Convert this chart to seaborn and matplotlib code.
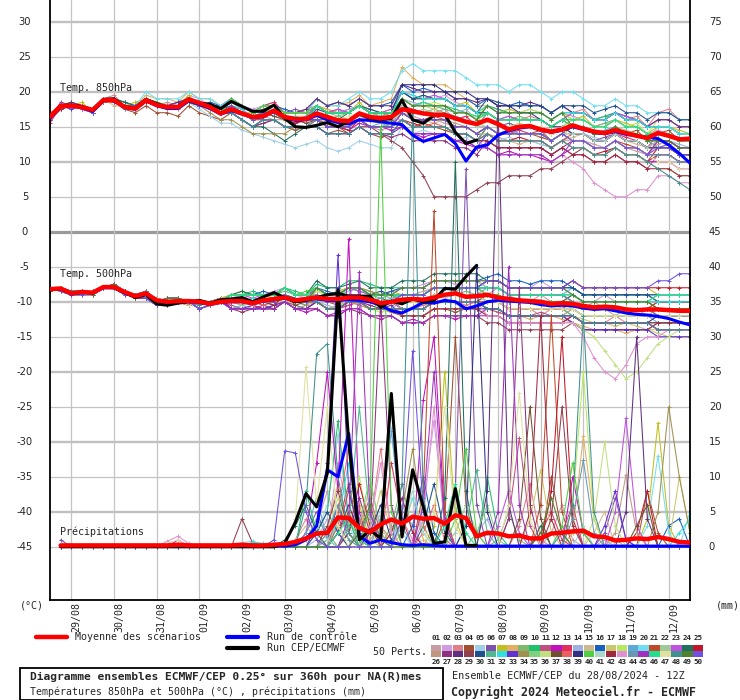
import numpy as np
import pandas as pd
import matplotlib
matplotlib.use('Agg')
import matplotlib.pyplot as plt
from matplotlib.lines import Line2D
from matplotlib.patches import Rectangle
import seaborn as sns

sns.set_style('white')
plt.rcParams['font.family'] = ['DejaVu Sans Mono', 'DejaVu Sans']

# run of 28/08 12Z, one step every 6h up to 360h
hours = list(range(0, 361, 6))
date_labels = ['29/08', '30/08', '31/08', '01/09', '02/09', '03/09', '04/09',
               '05/09', '06/09', '07/09', '08/09', '09/09', '10/09', '11/09', '12/09']
date_hours = [12, 36, 60, 84, 108, 132, 156, 180, 204, 228, 252, 276, 300, 324, 348]

# ensemble mean / control / deterministic (CEP) run
mean850 = [16.4, 18.0, 18.0, 17.8, 17.4, 18.8, 18.8, 17.8, 17.6, 18.8, 18.1, 17.8, 17.8, 18.9, 18.4, 17.8,
           16.9, 17.5, 16.9, 16.4, 16.5, 17.3, 16.4, 16.1, 16.1, 16.9, 16.4, 15.9, 15.8, 16.9, 16.4, 16.2,
           16.4, 17.5, 17.2, 16.9, 16.7, 16.7, 16.2, 15.7, 15.4, 16.0, 15.4, 14.6, 15.0, 15.1, 14.6, 14.3,
           14.6, 15.2, 14.7, 14.3, 14.1, 14.5, 14.1, 13.7, 13.4, 14.1, 13.7, 13.2, 13.3]
ctrl850 = [16.2, 17.9, 18.0, 17.7, 17.2, 18.7, 18.8, 17.7, 17.5, 18.7, 18.0, 17.6, 17.6, 18.7, 18.2, 17.6,
           16.8, 17.3, 16.8, 16.3, 16.4, 17.2, 16.3, 15.9, 16.0, 16.6, 16.0, 15.6, 15.4, 16.0, 15.9, 15.7,
           15.5, 15.3, 13.8, 12.9, 13.4, 13.9, 12.6, 10.1, 12.1, 12.4, 13.8, 14.4, 14.8, 15.0, 14.5, 14.2,
           14.5, 15.0, 14.6, 14.2, 14.0, 14.3, 13.9, 13.7, 13.5, 13.3, 12.4, 11.2, 9.8]
cep850 = [16.4, 18.0, 18.1, 17.9, 17.4, 18.9, 19.0, 17.8, 17.7, 18.9, 18.3, 17.8, 17.9, 19.0, 18.4, 18.2,
          17.6, 18.6, 17.9, 17.2, 17.2, 18.1, 16.2, 15.0, 14.9, 15.2, 15.6, 15.0, 15.8, 16.8, 16.2, 16.0,
          16.2, 18.8, 16.0, 15.5, 16.6, 16.8, 14.2, 12.6, 13.1]

mean500 = [-8.2, -8.1, -8.8, -8.6, -8.7, -7.9, -7.9, -8.6, -9.2, -8.8, -9.8, -10.0, -9.9, -9.9, -10.0, -10.3,
           -10.0, -9.9, -9.9, -10.2, -9.8, -9.6, -9.4, -9.8, -9.6, -9.4, -9.6, -9.6, -9.4, -9.4, -9.7, -10.2,
           -10.0, -9.7, -9.6, -9.7, -9.4, -9.0, -8.8, -9.3, -9.2, -9.0, -9.4, -9.6, -9.8, -9.9, -10.0, -10.3,
           -10.2, -10.3, -10.6, -10.8, -10.7, -10.8, -11.1, -11.2, -11.1, -11.1, -11.2, -11.3, -11.3]
ctrl500 = [-8.2, -8.2, -8.9, -8.7, -8.8, -8.0, -8.0, -8.7, -9.3, -8.9, -9.9, -10.1, -10.0, -10.0, -10.1, -10.4,
           -10.1, -10.0, -10.0, -10.3, -9.9, -9.7, -9.5, -9.9, -9.7, -9.6, -9.8, -9.8, -9.7, -9.8, -10.0, -10.5,
           -11.3, -11.6, -10.9, -10.1, -10.2, -9.8, -10.0, -11.0, -10.6, -10.0, -9.8, -9.9, -10.0, -10.1, -10.4,
           -10.6, -10.5, -10.6, -10.9, -11.1, -11.0, -11.3, -11.6, -11.8, -11.9, -12.1, -12.4, -12.9, -13.3]
cep500 = [-8.2, -8.1, -8.8, -8.6, -8.7, -7.9, -8.0, -8.7, -9.4, -9.0, -10.3, -10.5, -10.2, -10.0, -9.8, -10.2,
          -9.7, -9.6, -9.4, -10.0, -9.3, -8.7, -9.4, -10.0, -9.8, -9.4, -9.0, -8.8, -9.2, -9.2, -9.2, -10.8,
          -9.9, -10.3, -9.6, -10.0, -9.8, -8.1, -8.2, -6.4, -4.8]

# precipitation (mm per 6h), first value at +6h
mean_rr = [0.2, 0.2, 0.2, 0.2, 0.2, 0.2, 0.2, 0.2, 0.2, 0.2, 0.2, 0.3, 0.2, 0.2, 0.2, 0.2, 0.2, 0.3, 0.2, 0.2,
           0.3, 0.4, 0.7, 1.2, 1.9, 2.0, 4.2, 4.1, 2.7, 2.1, 3.2, 3.9, 3.3, 4.3, 4.0, 4.1, 3.3, 4.5, 4.1, 1.5,
           2.0, 1.9, 1.5, 1.6, 1.2, 1.2, 1.9, 2.0, 2.2, 2.3, 1.5, 1.4, 0.9, 1.0, 1.2, 1.1, 1.4, 1.1, 0.7, 0.6]
ctrl_rr = [0.1, 0.1, 0.1, 0.1, 0.1, 0.1, 0.1, 0.1, 0.1, 0.1, 0.1, 0.1, 0.1, 0.1, 0.1, 0.1, 0.1, 0.1, 0.1, 0.1,
           0.1, 0.1, 0.3, 1.0, 3.0, 11.0, 10.0, 16.2, 1.5, 0.5, 1.0, 0.6, 0.3, 0.2, 0.3, 0.2, 0.1, 0.1, 0.1, 0.1,
           0.1, 0.1, 0.1, 0.1, 0.1, 0.1, 0.1, 0.1, 0.1, 0.1, 0.1, 0.1, 0.1, 0.1, 0.1, 0.1, 0.1, 0.1, 0.1, 0.1]
cep_rr = [0.0, 0.0, 0.0, 0.0, 0.0, 0.0, 0.0, 0.0, 0.0, 0.0, 0.0, 0.0, 0.0, 0.0, 0.0, 0.0, 0.0, 0.0, 0.0, 0.0,
          0.0, 0.5, 3.5, 7.6, 5.7, 10.5, 36.7, 15.0, 1.0, 2.4, 1.2, 21.9, 1.4, 11.0, 5.7, 0.5, 0.7, 8.3, 0.2, 0.2]

member_colors = ['#c89ba5', '#d09ce0', '#e07f8a', '#a05030', '#a0d0e8', '#8050b0', '#c0c020', '#e0b060',
                 '#80b870', '#20c070', '#c05080', '#c010c0', '#e03060', '#a0b0e0', '#d0b890', '#1860c0',
                 '#c8c870', '#b8e860', '#60a8d8', '#70e0f0', '#c04828', '#a0c898', '#c050e0', '#207060',
                 '#c01828', '#c09880', '#903080', '#603080', '#904050', '#205090', '#50b890', '#30e0e0',
                 '#6030d0', '#a09050', '#80d080', '#c0e080', '#705030', '#e86060', '#303080', '#50d040',
                 '#a8d8c8', '#a02840', '#e090d0', '#6898b0', '#a030c0', '#20e090', '#e0e0a0', '#409090',
                 '#508030', '#7050e0']

# 50 perturbed members, T850 (°C), every 6h
t850_members = [
    "16 18 17.5 18 17 18.5 19 18 17.5  18.5 18 17.5 18 19 18 17.5 17  18 17 16 16.5 16 16 15 15  16 15 15.5 15 16 15 14.5 15  17 16.5 16 16 15.5 15 15 14  14 13.5 13 13 13 12.5 12 13  13 13 12.5 12 13 12 11.5 11  12.5 13 12 12",
    "16.5 18 18 18 17.5 19 19 18 18  19 18.5 18 18 19.5 19 18 18  19 18 17.5 18 18.5 17 17 17.5  18 17.5 17 17 18 17.5 17 17  20 19.5 19 19 19.5 18.5 18 17  18 17.5 17 17 17.5 17 16 17  16.5 16 15 15.5 16 15 15 14  14.5 14 13.5 13",
    "17 18 18.5 18 17 19 19.5 18 18  19 18 18.5 18 19 18 18.5 17  18 17.5 16 17 17.5 16 16.5 16  17 16 16.5 16 17 16.5 16 16  18 17.5 17 17 17.5 16 16.5 15  17 16 16.5 16 16.5 16 15 16  17 17.5 16 16.5 17 16 16.5 15  17 17.5 16 16",
    "16 17.5 18 17.5 17 18.5 18.5 17.5 17  18 17 17 16.5 18 17 16.5 16  17 16 15 15.5 16 15 14.5 15  15 14 14.5 14 15 14 13.5 14  16 15 15.5 15 14.5 14 14 13  15 14 14.5 14 14 13.5 13 14  15 15 14.5 14 15 14 14.5 13  14 14.5 13 13",
    "16 18 18 18 17 19 19 18 18  19 18 18 17.5 18.5 17.5 16.5 15.5  15.5 14.5 14 13.5 13 12.5 12 12.5  13 12 11.5 12 13 12.5 12 12  15 14 14.5 14 14 13 13.5 12  14 13 13.5 13 13 12.5 12 13  14 14 13.5 13 14 13 13 12  12 12.5 11 11",
    "16 18.5 18 18 17.5 19 19 18.5 18  19 18.5 18 18.5 19 18.5 18 18  19 18 17 17.5 18 17 17.5 17  18 17 17 17.5 18 17 17 16.5  19 18 18.5 18 18 17 17 16  16 15 15.5 15 15 15 14 15  14 14 13 13.5 14 13 13 12  12 12.5 11 11",
    "16 18 18 18.5 17 19 19 18 18.5  19 18 18 18 19.5 18 18 17.5  18 17 17 17.5 18 17 17 17  18 17.5 17 17 18.5 17 17 17.5  20 19 19.5 19 19 18 18.5 17  18 17 17.5 17 17 17 16 17  16 16.5 15 15 16 15.5 15 14  15 15 14.5 14",
    "16 18 18 18 17 19 19 18 18  19.5 19 19 18.5 20 19 19 18  19 18 17 18 18 17 17 17.5  19 18 18 18.5 19.5 18 18.5 19  23.5 22 21 21 21 20 19 18  18 17 17 17 17 17 16 17  16 16 15 15 16 15 15 14  14 14 13 13",
    "16 18 18 17.5 17 19 19 18 18  19 18 18 18 18.5 18 18 17  18 17 16 17 17 16 16 16  16 15 15 15.5 16 15 15 15.5  18 17 17 17.5 17 16 16 15  17 16 16 16.5 16 16 15 16  16 16 15 15.5 16 15 15 14  14 14 13 13",
    "16.5 18 18.5 18 17 19 19 18.5 18  19 18 18 18 19 18 18 17.5  19 18 17 18 18 17 17 17  17 16.5 16 16 17 16 16.5 16  19 18 18 18 18 17.5 17 16  18 17.5 17 17 17 17 16 17  17 17 16 16.5 17 16 16 15  15 15 14 14",
    "16 17.5 18 18 17 18.5 19 18 18  18.5 18 18 17.5 18.5 18 17.5 17  17 16 15 16 16 15 15 15  16 15 15 15 16 15 15 15  16 15 15 15 15 14 14 13  13 12 12 12 12 12 11 12  11 11 10 10 11 10 10 9  11 11 10 10",
    "16 18 18 18 17 19 19 18 18  19 18 18 18 19 18 18 17  18 17 16 16.5 17 16 15.5 16  16 15 15 14.5 15.5 15 15 14.5  15 14 13.5 14 14 13 12.5 12  12 11 11.5 11 11 10.5 10 11  12 12 11 11 12 11 11 10  10 10 9 9",
    "15.5 18 18 18 17 19 18.5 18 18  19 18 18 18 19 18 18 17  19 18 17 18 18.5 17 17 17  18 17 17.5 17 18 17 16.5 17  18 17.5 17 17 17 16 16.5 15  15 14 14 14.5 14 14 13 14  14 14 13 13 14 13.5 13 12  14 14 13 13",
    "16 18 18 18 17 19 19 18 18  19 18 18 18 19 18 18 17.5  18.5 17.5 16.5 17 17 16.5 16 16.5  18 17 17 17.5 18 17 17 17  19 18.5 18 18 18 17 17.5 16  16 15.5 15 15 15 15 14 15  15 15 14 14.5 15 14 14 13  13 13 12.5 12",
    "16 18 18 18 17 19 18 18 18  19 18 18 18 19 18 17.5 17  18 17 16 16.5 17 16 16 15.5  17 16 16 16 16.5 16 16 16  17 16 16 15.5 16 15 15 14  14 13 13 12.5 13 13 12 13  13.5 14 13 13 14 13 12.5 12  12 12 11 11",
    "16 18 18 18 17.5 19 19 18 18  19 18.5 18 18 19 18 18.5 18  19 18 17 18 18 17.5 17 17  19 18 18.5 18 19 18 18 18.5  21 20 20.5 20 20 19 19 18  19 18 18 18.5 18 18 17 18  17 17 16 16 17 16.5 16 15  15 15 14 14",
    "16 18 18.5 18 17 19 19 18 18  19 18 18 18 19 18 18 17  18 17 16.5 17 17 16 16 16.5  17 16.5 16 16 17 16 16 16.5  19 18 18 17.5 18 17 17 16  16 15 15 15.5 15 15 14 15  14 14 13 13 14 13 13 12  13 13 12 12",
    "16 18 18 18 17 19 19 18 18  19 18 18 18 19 18 18 17  18 17 16 17 17 16 16.5 16.5  18 17 17 17 18 17.5 17 17  19 18 18 18.5 18 17 17 16.5  18 17 17 17 17.5 17 16 17  16 16 15 15 16 15 15.5 14  16 16 15 15",
    "16 18 18 18 17 19 19 18 18  19 18 18 18 19 18 18 17  17 16 15 16 16 15 15 15  16 15 15 15 16 15 15.5 15  18 17 17 17 17 16.5 16 15  17 16 16 16 16 16 15 16  15 15 14 14.5 15 14 14 13  14 14 13 13",
    "16 18 18 18 17 19 19 18 18  20 19 19 19 20 19 19 18  19 18 17 18 18 17 17 17  19 18 18 19 20 19 19 20  23 24 23 23 23 23 22 21  21 21 20 21 21 20 19 20  20 19 18 18 19 18 18 17  17 17 16 16",
    "16 18 18 18 17 19 19 18 18  19 18 18 18 19 18 18 17  18 17 16 17 17 16 16 16  16 15.5 15 15 16 15 15 15  17 16 16 16.5 16 15 15 14  15 14 14 14 14 14.5 13 14  13 13 12 12 13 12.5 12 11  13 13 12 12",
    "16 18 18 18 17.5 19 19 18 18  19 18.5 18 18 19 18 18 17  18 17 16.5 17 17.5 16 16 16  17 16 16.5 16 17 16 15.5 16  18 17 17.5 17 17 16 16 15.5  15 14 14.5 14 14 14 13 14  15 15 14 14 15 14.5 14 13  15 15 14 14",
    "16 18 18 17.5 17 19 19 18 17.5  19 18 18 18.5 19 18 18 17  18 17.5 16 17 17 16.5 16 16.5  18 17 17.5 17 18 17 17 17.5  20 19 19 19.5 19 18 18 17  17 16 16.5 16 16 16 15 16  17 17 16 16 17 16.5 16 15  16 16 15 15",
    "16 18 18 18 17 19 19 18.5 18  19 18 18 18 19 18 18 17  17 16 15 15 14 13 14 15  16 16 16 17 18 17 17 17  20 19 19 19 19 18 18 17  17 16 16 16 16 16 15 16  15 15 14 14 15 14 14 13  13 13 12 12",
    "16 17.5 18 18 17 18.5 19 18 18  18.5 18 18 18 18.5 18 18 17  17.5 17 16 16.5 17 16 15.5 16  16 15 15 14.5 16 15 15 15  16 15.5 15 15 15 14 14 13  14 13 13 13.5 13 13 12 13  12 12 11 11.5 12 11 11 10  12 12 11 11",
    "16 18 18 18 17 19 19 18 18  19 18 18 17.5 19 18 18 17  18 17 16 17 16.5 16 16 16  17 16 16 15.5 17 16 16 16  17 16 16 16 16 15.5 15 14  15 14 14 14 14 14 13 14  13 13 12 12 13 12 12 11  13 13 12 12",
    "16 18 18 18 17 19 19 18 18  19 18 18 18 19 18 18 17  17 16 15 15.5 16 15 15 15  15 14 14 14 15 14 14 13.5  14 13 13 13 13 12 12 11  13 12 12 12 12 12 11 12  13 13 12 12 13 12 12 11  11 11 10 10",
    "16 18 18.5 18 17 19 19 18 18  19 18 18 18.5 19 18 18 17.5  19 18 17 17.5 18 17 17 17.5  19 18 18.5 18 19 18 18 18  21 20.5 20 20 20 19 19 18.5  19 18 18 18 18.5 18 17 18  17 17 16 16 17 16 16 15  16 16 15 15",
    "16 18 18 18 17 19 19 18 18  19 18 18 18 19 18 18 17  18 17 16 16 16 15 15 15  16 15 15 14 15 15 14 13  12 10 8 5 5 5 5 6  7 7 8 8 8 9 9 10  11 12 11 11 12 11 11 10  11 11 10 10",
    "16 18 18 18 17 19 19 18 18  19 18 18 18 19 18.5 18 17.5  18 17 16.5 17 17 16.5 16 16  17.5 17 17 17 18 17.5 17 17  20 19 19.5 19 19 18 18 17  19 18.5 18 18 18 18 17 18  18 18 17 17.5 18 17 17 16  17 17 16 16",
    "16 18 18 18 17 18.5 19 18 18  19 18 18 18 19 18 18 17  18 17 16 17 17.5 16 16 16  17 16.5 16 16 17 16 16 16  19 18 18 18 17.5 17 17 16  17 16 16 16 16 16 15 16  15 15 14 14 15 14 14 13  12 12 11 11",
    "16 18 18 18 17 19 19 18 18  19 18 18 18 19 18 18 17  18 17.5 16 17 17 16 16.5 16  18 17 17 17 18 17 17 17  20 19.5 19 19 19 18 18 17  18 17 17 17 17 17 16 17  17 17 16 16 17 16 16 15  15 15 14 14",
    "16 18 17.5 18 17 19 18.5 18 18  19 18 18 18 19 18 18 17  17 16 15 16 16 15 15 15  15 14 14 14 15 14 14 14  15 14 14 14 14 13 13 12  14 13 13 13 13 13 12 13  14 14 13 13 14 13 13 12  13 13 12 12",
    "16 18 18 18 17 19 19 18 18  19 18 18 18 19 18 17 16  16 15 14 14 14 14 15 15  16 15 15 15 16 15 15 15  16 15 15 15 15 14 14 13  15 14 14 14 14 14 13 14  14 14 13 13 14 13 13 12  12 12 11 11",
    "16 18 18 18 17 19 19 18 18  19 18 18 18 19 18 18 17  19 18 17 18 18 17 17 17  18 17 16.5 17 18 17 16.5 17  18 17 17 17 17 16 16 15  16 15 15 15 15 15 14 15  16 16 15 15 16 15 15 14  14 14 13 13",
    "16 18 18 18 17 19 19 18 18  19 18 18 18 19 18 18 17  18 17 16 17 17 16 16 16  17 16 16 16 17 16 16 16  17 16 16 16 16 15 15 14  14 13 13 13 13 13 12 13  12 12 11 11 12 11 11 10  9 9 8 8",
    "16 18 18 18 17 19 19 18 18  19 18 18 18 19 18 18 17  18 17 16 17 16.5 16 16 15.5  16 15 15 15 16 15 15 15  17 16 16 16 16 15 15 14  15 14 14 14 14 14 13 14  15 15 14 14 15 14 14 13  14 14 13 13",
    "16 18 18 18 17 19 19 18 18  19 18 18 18 19 18 18 17  18 17 16 17 17 16 16 16  16 15 15 15 16 15 15 15  16 15 15 15.5 15 14 14 13  14 13 13 13 13 13 12 13  14 14 13 13 14 13 13 12  13 13 12 12",
    "16 18 18 18 17 19 19 18 18  19 18 18 18 19 18 18 17  18 17 16 17 17 16 16 16  18 17 17 17 18 17 17 17  21 21 21 21 20 20 20 19  19 18 18 17 17 16 15 15  14 14 13 13 14 13 13 12  12 12 11 11",
    "16 18 18 18 17 19 19 18 18  19 18.5 18 18 19 18.5 18 17  19 18 17 18 18 17 17 17  18 17 17 17 18 17 17 17  19 18 18 18 18 17 17 16  17 16 16 16 16 16 15 16  15 15 14 14 15 14 14 13  14 14 13 13",
    "16 18 18 18 17 19 19 18 18  19 18 18 18 19 18 18 17  18 17 16 17 17 16 16 16  17 16 16 16 16.5 16 16 15.5  18 17 17 17 17 16 16 15  15 14 14 14 14 14 13 14  14 14 13 13 14 13 13 12  13 13 12 12",
    "16 18 18 18 17 19 19 18 18  19 18 18 18 19 18 18 17  18 17 16 17 17 16 15.5 16  16 15 15 15 16 15 15 15  16 15 15 15 15 14 14 13  13 12 12 12 12 12 11 12  11 11 10 10 11 10 10 9  9 9 8 8",
    "16 18 18 18 17 19 19 18 18  19 18 18 18 19 18 18 17  18 17 16 17 17 16 16 16  17 16 16 16 17 16 16 16  16 15 15 15 15 14 14 13  12 11 11 11 11 11 10 11  10 9 7 6 5 5 6 6  8 8 7 7",
    "16 18 18 18 17 19 19 17.5 17.5  19 18 18 18 19 18 18 17  17 16 15 16 16 15 15 15  16 15 15 15 16 15 15 15  16 15 15 15 15 14 14 13  15 14 14 14 14 14 13 14  13 13 12 12 13 12 12 11  11 11 10 10",
    "16 18 18 18 17 19 19 18 18  19 18 18 18 19 18 18 17  18 17 16 17 17 16 16 16  17 16 16 16 17 16 16 16  15 14 14 14 14 13 13 12  12 11 11 11 11 11 10 11  13 13 12 12 13 12 12 11  13 13 12 12",
    "16 18 18 18 17 19 19 18 18  19 18 18 18 19 18 18 17  18 17 16 17 17 16 16 16  18 17 17 17 18 17 17 17  19 18 18.5 18 18 17 17 16.5  17 16 16 16 16 16 15 16  16 16 15 15 16 15 15 14  14 14 13 13",
    "16 18 18 18 17 19 19 18 18  19 18 18 18 19 18 18 17  18 17 16 17 17 16 16 16  17 16 16 16.5 17 16 16 16  19 18 18 18 18 17 17 16  16 15 15 15 15 15 14 15  13 13 12 12 13 12 12 11  10 10 9 9",
    "16 18 18 18 17 19 19 18 18  19 18 18 18 19 18 18 17  17 16 15 16 16 15 15 15  15 14 14 14 15 14 14 14  16 15 15 15 15 14 14 13  14 13 13 13 13 13 12 13  12 12 11 11 12 11 11 10  9 8 7 6",
    "16 18 18 18 17 19 19 18 18  19 18 18 18 18.5 18 18 17  18 17 16 17 17 16 16 16  17 16 16 16 17 16 16 16  19 18 18 18 18 17 17 16  18 17 17 17 17 17 16 17  15 15 14 14 15 14 14 13  13 13 12 12",
    "16 18 18 18 17 19 19 18 18  19 18 18 18 19 18 18 17  18 17 16 17 17 16.5 16 16  16 15 15 15 16 15 15 15  17 16 16 16 16 15 15 14  15 14 14 14 14 14 13 14  13 13 12 12 13 12 12 11  12 12 11 11",
]

# 50 perturbed members, T500 (°C), every 6h
t500_members = [
    "-8 -8 -8.5 -8.5 -9 -8 -8 -8.5 -9  -9 -9.5 -10 -10 -10.5 -10 -10 -9.5  -10 -9.5 -10 -10.5 -10 -9 -9.5 -10  -8.5 -9 -9 -8 -8 -8.5 -9 -9.5  -9 -9 -8.5 -8 -8 -8.5 -8 -8  -9 -8 -9 -10 -10 -9 -10 -11  -10 -11 -10 -11 -12 -11 -11 -12  -12 -12 -12 -12",
    "-8.5 -8 -9 -8.5 -9 -8 -7.5 -8.5 -9.5  -8.5 -10 -10.5 -10 -10 -10.5 -10 -9.5  -9 -9.5 -9 -9 -8.5 -8 -9 -9.5  -8 -9 -8.5 -8 -8.5 -9 -9 -8.5  -8 -8 -7.5 -7 -7 -7.5 -7 -7  -7 -7 -8 -8 -8 -7 -8 -8  -9 -10 -10 -9 -10 -10 -10 -10  -10 -10 -10 -10",
    "-8 -8.5 -9 -9 -8.5 -8 -8 -9 -9  -9 -10 -9.5 -9.5 -10 -10 -10.5 -10  -10 -10 -10.5 -10 -10 -9.5 -10 -10  -9 -10 -10 -9.5 -9 -10 -10.5 -10  -11 -11 -10.5 -10 -10 -10 -10.5 -10  -10 -10 -11 -11 -11 -12 -11 -11  -12 -13 -13 -13 -12 -13 -13 -13  -13 -13 -13 -13",
    "-8 -8 -9 -9 -9 -8 -8 -9 -9  -9.5 -10.5 -10 -10 -10 -11 -10.5 -10  -11 -11 -10.5 -11 -11 -10 -10.5 -11  -10 -11 -11 -10.5 -10 -11 -11 -11.5  -12 -12 -12 -11 -11 -11.5 -11 -11  -11 -11 -12 -12 -12 -12 -12 -12  -11 -12 -12 -12 -12 -12 -11 -11  -11 -11 -11 -11",
    "-8 -8 -8.5 -8.5 -9 -8 -8 -8.5 -9  -9 -10 -10 -10 -10 -10 -10 -10  -10 -10 -10 -9.5 -10 -9 -10 -9.5  -8 -9 -9 -8 -8.5 -9 -9 -9  -10 -10 -10 -9 -9.5 -9 -9 -9  -10 -10 -11 -11 -11 -11 -11 -11  -11 -12 -12 -12 -12 -12 -12 -12  -12 -12 -12 -12",
    "-8.5 -8 -9 -8.5 -9 -8 -7.5 -8.5 -9.5  -9 -10 -10 -10 -10 -10 -10 -10  -10 -9.5 -10 -10 -9.5 -9 -10 -10  -9 -9.5 -10 -9 -9 -9.5 -10 -10  -9 -9 -9 -8 -8 -8 -8 -8  -8 -8 -9 -9 -9 -9 -9 -9  -8 -9 -9 -9 -9 -9 -9 -9  -10 -10 -10 -10",
    "-8 -8 -9 -9 -9 -8 -8 -9 -9  -9 -9.5 -10 -10 -10.5 -10 -10 -9.5  -9 -8.5 -9 -9 -9.5 -8 -9 -9  -8 -9 -8.5 -8 -8 -9 -9 -8.5  -9 -9 -9 -8 -8 -8 -8 -8  -7 -7 -8 -8 -8 -8 -8 -8  -7 -8 -8 -8 -8 -8 -8 -8  -9 -9 -9 -9",
    "-8 -8 -8.5 -8.5 -9 -8 -8 -8.5 -9  -8.5 -10 -10.5 -10 -10 -10.5 -10 -10  -10 -10.5 -10 -10 -10.5 -9.5 -10 -10.5  -10 -11 -10.5 -10 -10.5 -11 -11 -11.5  -11 -11 -11 -10 -10 -10 -10 -10  -11 -11.5 -12 -12 -12.5 -12 -12 -12.5  -13 -13.5 -14 -14 -14 -14.5 -14 -14  -14 -14 -14 -14",
    "-8.5 -8 -9 -8.5 -9 -8 -7.5 -8.5 -9.5  -9 -10 -9.5 -9.5 -10 -10 -10.5 -10  -10 -9.5 -10 -10 -10 -9 -9.5 -10  -9 -10 -9.5 -9 -9 -9.5 -10 -10  -10 -9.5 -10 -9 -9 -9 -8.5 -9  -8 -8 -9 -9 -9 -9 -9 -9  -9 -10 -10 -10 -10 -10 -10 -10  -11 -11 -11 -11",
    "-8 -8.5 -9 -9 -8.5 -8 -8 -9 -9  -9.5 -10.5 -10 -10 -10 -11 -10.5 -10  -9 -9 -8.5 -9 -9 -8 -8.5 -9  -7.5 -8 -8 -7 -7 -7.5 -8 -8  -8 -8 -8 -7 -7 -7 -7 -7  -8 -8 -9 -9 -9 -9 -9 -9  -9 -10 -10 -10 -10 -10 -10 -10  -9 -9 -9 -9",
    "-8 -8 -9 -9 -9 -8 -8 -9 -9  -9 -10 -10 -10 -10 -10 -10 -10  -10.5 -11 -11 -11 -10.5 -10 -11 -11  -10 -11 -11 -10.5 -10 -11 -11 -11  -11 -11 -11 -10 -10 -10 -10 -10  -11 -11.5 -12 -12 -12 -11.5 -12 -12  -12 -13 -13 -13 -13 -13 -13 -13  -14 -14 -14 -14",
    "-8 -8 -8.5 -8.5 -9 -8 -8 -8.5 -9  -9 -9.5 -10 -10 -10.5 -10 -10 -9.5  -11 -11 -10.5 -11 -11 -10 -11 -11.5  -11 -12 -11.5 -11 -11 -12 -12.5 -12  -13 -12.5 -13 -12 -12 -12.5 -12 -12  -12 -12 -13 -13 -13 -13 -13 -13  -12 -13 -13 -13 -13 -13 -13 -13  -14 -14 -14 -14",
    "-8.5 -8 -9 -8.5 -9 -8 -7.5 -8.5 -9.5  -8.5 -10 -10.5 -10 -10 -10.5 -10 -10  -10 -10 -9.5 -10 -10 -9 -10 -9.5  -8 -9 -9 -8.5 -8 -9 -9 -9  -9 -9 -9 -8 -8 -8 -8 -8  -9 -9.5 -10 -10 -10 -10.5 -10 -10  -10 -11 -11 -11 -11 -11 -11 -11  -10 -10 -10 -10",
    "-8 -8.5 -9 -9 -8.5 -8 -8 -9 -9  -9 -10 -9.5 -9.5 -10 -10 -10.5 -10  -10 -10.5 -10 -10 -10 -9.5 -10 -10  -10 -10.5 -11 -10 -10 -10.5 -11 -11  -10 -10 -10 -9.5 -9 -9 -9 -9  -8 -8 -9 -9 -9 -9 -9 -9  -10 -11 -11 -11 -11 -11 -11 -11  -12 -12 -12 -12",
    "-8 -8 -9 -9 -9 -8 -8 -9 -9  -9.5 -10.5 -10 -10 -10 -11 -10.5 -10  -10 -10 -10.5 -10 -10 -9.5 -10 -10  -9 -10 -10 -9.5 -9.5 -10 -10 -10  -11 -11 -11 -10 -10 -10 -10 -10  -11 -11 -12 -12 -12 -12 -12 -12  -11 -12 -12 -12 -12 -12 -12 -12  -12 -12 -12 -12",
    "-8 -8 -8.5 -8.5 -9 -8 -8 -8.5 -9  -9 -10 -10 -10 -10 -10 -10 -10  -9 -9 -9 -8.5 -9 -8 -9 -9  -8 -8.5 -9 -8 -8 -9 -9 -8.5  -8 -8 -8 -7 -7 -7 -7 -7  -6.5 -6 -7 -7 -7.5 -7 -7 -7  -8 -9 -9 -9 -9 -9 -9 -9  -9 -9 -9 -9",
    "-8.5 -8 -9 -8.5 -9 -8 -7.5 -8.5 -9.5  -9 -9.5 -10 -10 -10.5 -10 -10 -9.5  -10 -10 -10 -10.5 -10 -9 -10 -10  -9.5 -10 -10 -9 -9 -10 -10 -10.5  -10 -10 -10 -9 -9 -9 -9 -9  -10 -10 -11 -11 -11 -11 -11 -11  -12 -12.5 -13 -13 -13.5 -13 -13.5 -14  -14.5 -15 -15 -15",
    "-8 -8.5 -9 -9 -8.5 -8 -8 -9 -9  -8.5 -10 -10.5 -10 -10 -10.5 -10 -10  -10 -9.5 -10 -10 -10 -9 -10 -10  -8.5 -9 -9 -8 -8 -8.5 -9 -9  -10 -10 -10 -9 -9 -9 -9 -9  -9 -9 -10 -10 -10 -10 -10 -10  -9 -10 -10 -10 -10 -10 -10 -10  -11 -11 -11 -11",
    "-8 -8 -9 -9 -9 -8 -8 -9 -9  -9 -10 -9.5 -9.5 -10 -10 -10.5 -10  -11 -10.5 -11 -11 -11 -10 -11 -10.5  -9 -10 -10 -9 -9.5 -10 -10 -10  -10 -10 -10 -9 -9 -9 -9 -9  -10 -10 -11 -11 -11 -11 -11 -11  -11 -12 -12 -12 -12 -12 -12 -12  -13 -13 -13 -13",
    "-8 -8 -8.5 -8.5 -9 -8 -8 -8.5 -9  -9.5 -10.5 -10 -10 -10 -11 -10.5 -10  -10 -10 -10 -9.5 -10 -9 -10 -10  -8 -9 -9 -8.5 -8 -9 -9 -9  -9 -9 -9 -8 -8 -8 -8 -8  -8 -8 -9 -9 -9 -9 -9 -9  -8 -9 -9 -9 -9 -9 -9 -9  -9 -9 -9 -9",
    "-8.5 -8 -9 -8.5 -9 -8 -7.5 -8.5 -9.5  -9 -10 -10 -10 -10 -10 -10 -10  -10 -10 -10 -10 -10.5 -9 -10 -10  -9 -10 -10.5 -9 -9 -10 -10 -10  -11 -11 -11 -10 -10 -10 -10 -10  -10 -10 -11 -11 -11 -11 -11 -11  -10 -11 -11 -11 -11 -11 -11 -11  -10 -10 -10 -10",
    "-8 -8.5 -9 -9 -8.5 -8 -8 -9 -9  -9 -9.5 -10 -10 -10.5 -10 -10 -9.5  -10 -10.5 -10 -10 -10 -9 -10 -10  -10 -11 -10.5 -10 -10 -11 -11 -11  -11 -11 -11 -10 -10 -10 -10 -10  -9 -9 -10 -10 -10 -10 -10 -10  -10 -11 -11 -11 -11 -11 -11 -11  -11 -11 -11 -11",
    "-8 -8 -9 -9 -9 -8 -8 -9 -9  -8.5 -10 -10.5 -10 -10 -10.5 -10 -10  -9 -9 -9.5 -9 -9 -8 -9 -9  -8 -9 -9 -8 -8.5 -9 -9 -9  -8 -8 -8 -7 -7 -7 -7 -7  -8 -8 -9 -9 -9 -9 -9 -9  -10 -11 -11 -11 -11 -11 -11 -11  -11 -11 -11 -11",
    "-8 -8 -8.5 -8.5 -9 -8 -8 -8.5 -9  -9 -10 -9.5 -9.5 -10 -10 -10.5 -10  -9 -8.5 -9 -9 -9 -8 -9 -9  -7 -8 -8 -7.5 -7 -8 -8 -8  -7 -7 -7 -6 -6 -6 -6 -6  -7 -7 -8 -8 -8 -8 -8 -8  -8 -9 -9 -9 -9 -9 -9 -9  -10 -10 -10 -10",
    "-8.5 -8 -9 -8.5 -9 -8 -7.5 -8.5 -9.5  -9.5 -10.5 -10 -10 -10 -11 -10.5 -10  -10 -10 -10 -10 -9.5 -9 -10 -10  -9 -10 -10 -9 -9 -9.5 -10 -10  -9 -9 -9 -8 -8 -8 -8 -8  -7 -7 -8 -8 -8 -8 -8 -8  -7 -8 -8 -8 -8 -8 -8 -8  -8 -8 -8 -8",
    "-8 -8.5 -9 -9 -8.5 -8 -8 -9 -9  -9 -10 -10 -10 -10 -10 -10 -10  -10 -10 -10.5 -10 -10 -9 -10 -10  -10 -11 -11 -10 -10.5 -11 -11 -11  -12 -12 -12 -11 -11 -11 -11 -11  -10 -10 -11 -11 -11 -11 -11 -11  -11 -12 -12 -12 -12 -12 -12 -12  -11 -11 -11 -11",
    "-8 -8 -9 -9 -9 -8 -8 -9 -9  -9 -9.5 -10 -10 -10.5 -10 -10 -9.5  -11 -11 -11 -10.5 -11 -10 -11 -11  -10 -11 -11 -10 -10 -10.5 -11 -11  -11 -11 -11 -10 -10 -10 -10 -10  -11 -11 -12 -12 -12 -12 -12 -12  -13 -14 -14 -14 -14 -14 -14 -14  -13 -13 -13 -13",
    "-8 -8 -8.5 -8.5 -9 -8 -8 -8.5 -9  -8.5 -10 -10.5 -10 -10 -10.5 -10 -10  -10 -10 -10 -10 -10 -9.5 -10 -9.5  -9 -10 -10 -9 -9 -10 -9.5 -10  -9 -9 -9 -8 -8 -8 -8 -8  -8 -8 -9 -9 -9 -9 -9 -9  -10 -11 -11 -11 -11 -11 -11 -11  -12 -12 -12 -12",
    "-8.5 -8 -9 -8.5 -9 -8 -7.5 -8.5 -9.5  -9 -10 -9.5 -9.5 -10 -10 -10.5 -10  -11 -11.5 -11 -11 -11 -10 -11 -11  -11 -12 -12 -11 -11.5 -12 -12 -12  -13 -13 -13 -12 -12 -12 -12 -12  -13 -13 -14 -14 -14 -14 -14 -14  -13 -14 -14 -14 -14 -14 -14 -14  -13 -13 -13 -13",
    "-8 -8.5 -9 -9 -8.5 -8 -8 -9 -9  -9.5 -10.5 -10 -10 -10 -11 -10.5 -10  -10 -10 -10 -10 -10 -9 -9.5 -10  -8 -9 -9 -8 -8 -9 -8.5 -9  -9 -9 -9 -8 -8 -8 -8 -8  -7 -7 -8 -8 -8 -8 -8 -8  -8 -9 -9 -9 -9 -9 -9 -9  -9 -9 -9 -9",
    "-8 -8 -9 -9 -9 -8 -8 -9 -9  -9 -10 -10 -10 -10 -10 -10 -10  -9 -9 -9 -9 -9 -8.5 -9 -9  -8 -9 -9 -8 -8 -9 -9.5 -9  -10 -10 -10 -9 -9 -9 -9 -9  -10 -10 -11 -11 -11 -11 -11 -11  -12 -13 -13 -13 -13 -13 -13 -13  -13 -13 -13 -13",
    "-8 -8 -8.5 -8.5 -9 -8 -8 -8.5 -9  -9 -9.5 -10 -10 -10.5 -10 -10 -9.5  -10 -10 -9.5 -10 -10 -9 -10 -10  -9 -10 -10 -9 -9 -10 -10 -9.5  -9 -9 -9 -8 -8 -8 -8 -8  -9 -9 -10 -10 -10 -10 -10 -10  -9 -10 -10 -10 -10 -10 -10 -10  -10 -10 -10 -10",
    "-8.5 -8 -9 -8.5 -9 -8 -7.5 -8.5 -9.5  -8.5 -10 -10.5 -10 -10 -10.5 -10 -10  -11 -11 -11 -11 -10.5 -10 -11 -11  -10 -11 -11 -10 -10 -11 -11 -10.5  -12 -12 -12 -11 -11 -11 -11 -11  -11 -11 -12 -12 -12 -12 -12 -12  -13 -14 -14 -14 -14 -14 -14 -14  -15 -15 -15 -15",
    "-8 -8.5 -9 -9 -8.5 -8 -8 -9 -9  -9 -10 -9.5 -9.5 -10 -10 -10.5 -10  -10 -10 -10 -10 -10 -9 -10 -10.5  -8 -9 -9 -8 -8 -8.5 -9 -9  -10 -10 -10 -9 -9 -9 -9 -9  -10 -10 -11 -11 -11 -11 -11 -11  -10 -11 -11 -11 -11 -11 -11 -11  -11 -11 -11 -11",
    "-8 -8 -9 -9 -9 -8 -8 -9 -9  -9.5 -10.5 -10 -10 -10 -11 -10.5 -10  -9 -9 -9 -9 -9 -8 -9 -9  -9 -9.5 -10 -9 -9 -10 -10 -10  -9 -9 -9 -8 -8 -8 -8 -8  -9 -9 -10 -10 -10 -10 -10 -10  -11 -12 -12 -12 -12 -12 -12 -12  -12 -12 -12 -12",
    "-8 -8 -8.5 -8.5 -9 -8 -8 -8.5 -9  -9 -10 -10 -10 -10 -10 -10 -10  -10 -10 -10 -10 -10 -9.5 -10 -10  -10 -11 -11 -10 -10 -11 -11.5 -11  -12 -12 -12 -11 -11 -11 -11 -11  -12 -12 -13 -13 -13 -13 -13 -13  -13 -14 -15 -17 -19 -21 -20 -18  -16 -15 -14 -14",
    "-8.5 -8 -9 -8.5 -9 -8 -7.5 -8.5 -9.5  -9 -9.5 -10 -10 -10.5 -10 -10 -9.5  -10 -10 -10 -10 -10 -9 -10.5 -10  -9 -10 -10 -9 -9 -10 -10 -10  -11 -11 -11 -10 -10 -10 -10 -10  -9 -9 -10 -10 -10 -10 -10 -10  -9 -10 -10 -10 -10 -10 -10 -10  -11 -11 -11 -11",
    "-8 -8.5 -9 -9 -8.5 -8 -8 -9 -9  -8.5 -10 -10.5 -10 -10 -10.5 -10 -10  -10 -10 -10 -10.5 -10 -9 -10 -10  -10 -11 -11 -10 -10 -11 -11 -11  -11 -11 -11 -10 -10 -10 -10 -10  -10 -10 -11 -11 -11 -11 -11 -11  -10 -11 -11 -11 -11 -11 -11 -11  -12 -12 -12 -12",
    "-8 -8 -9 -9 -9 -8 -8 -9 -9  -9 -10 -9.5 -9.5 -10 -10 -10.5 -10  -10 -10 -10 -10 -10 -9 -10 -10  -9 -10 -10 -9 -9 -10 -10.5 -10  -11 -11 -11 -10 -10 -10 -10 -10  -11 -11 -12 -12 -12 -12 -12 -12  -12 -13 -13 -13 -13 -13 -13 -13  -12 -12 -12 -12",
    "-8 -8 -8.5 -8.5 -9 -8 -8 -8.5 -9  -9.5 -10.5 -10 -10 -10 -11 -10.5 -10  -9 -9 -9 -9 -9 -8 -9 -8.5  -8 -9 -9 -8 -8 -9 -9 -9  -9 -9 -9 -8 -8 -8 -8 -8  -9 -9 -10 -10 -10 -10 -10 -10  -10 -11 -11 -11 -11 -11 -11 -11  -11 -11 -11 -11",
    "-8.5 -8 -9 -8.5 -9 -8 -7.5 -8.5 -9.5  -9 -10 -10 -10 -10 -10 -10 -10  -10 -9.5 -10 -10 -10 -9 -10 -10  -8 -9 -9 -8 -8 -9 -9 -9  -8 -8 -8 -7 -7 -7 -7 -7  -8 -8 -9 -9 -9 -9 -9 -9  -9 -10 -10 -10 -10 -10 -10 -10  -9 -9 -9 -9",
    "-8 -8.5 -9 -9 -8.5 -8 -8 -9 -9  -9 -9.5 -10 -10 -10.5 -10 -10 -9.5  -10 -10 -10 -10 -10.5 -9 -10 -10  -10 -11 -11 -10 -10 -11 -11 -11  -12 -12 -12 -11 -11 -11 -11 -11  -12 -12 -13 -13 -13 -13 -13 -13  -12 -13 -13 -13 -13 -13 -13 -13  -13 -13 -13 -13",
    "-8 -8 -9 -9 -9 -8 -8 -9 -9  -8.5 -10 -10.5 -10 -10 -10.5 -10 -10  -10 -10 -10 -10 -10 -9 -10 -10  -9 -10 -10 -9 -9 -10 -10 -10  -11 -11 -11 -10 -10 -10 -10 -10  -12 -12 -13 -13 -13 -13 -13 -13  -13 -15 -18 -20 -21 -19 -16 -15  -15 -14 -14 -14",
    "-8 -8 -8.5 -8.5 -9 -8 -8 -8.5 -9  -9 -10 -9.5 -9.5 -10 -10 -10.5 -10  -10 -9.5 -10 -10 -10 -9 -10 -10  -8 -9 -9 -8 -8 -9 -9 -9  -9 -9 -9 -8 -8 -8 -8 -8  -8 -8 -9 -9 -9 -9 -9 -9  -10 -11 -11 -11 -11 -11 -11 -11  -12 -12 -12 -12",
    "-8.5 -8 -9 -8.5 -9 -8 -7.5 -8.5 -9.5  -9.5 -10.5 -10 -10 -10 -11 -10.5 -10  -11 -11 -11 -11 -11 -10 -11 -11  -11 -12 -12 -11 -11 -12 -12 -12  -13 -13 -13 -12 -12 -12 -12 -12  -11 -11 -12 -12 -12 -12 -12 -12  -12 -13 -13 -13 -13 -13 -13 -13  -14 -14 -14 -14",
    "-8 -8.5 -9 -9 -8.5 -8 -8 -9 -9  -9 -10 -10 -10 -10 -10 -10 -10  -9 -9 -9 -9 -9 -8 -9 -9  -8 -9 -9 -8 -8 -9 -9 -9  -9 -9 -9 -8 -8 -8 -8 -8  -8 -8 -9 -9 -9 -9 -9 -9  -9 -10 -10 -10 -10 -10 -10 -10  -9 -9 -9 -9",
    "-8 -8 -9 -9 -9 -8 -8 -9 -9  -9 -9.5 -10 -10 -10.5 -10 -10 -9.5  -10 -10 -10 -10 -10 -9 -10 -10  -9 -10 -10 -9 -9 -10 -10 -10  -10 -10 -10 -9 -9 -9 -9 -9  -10 -10 -11 -11 -11 -11 -11 -11  -11 -12 -12 -12 -12 -12 -12 -12  -12 -12 -12 -12",
    "-8 -8 -8.5 -8.5 -9 -8 -8 -8.5 -9  -8.5 -10 -10.5 -10 -10 -10.5 -10 -10  -10 -10 -10 -10 -10 -9 -10 -10  -10 -11 -11 -10 -10 -11 -11 -11  -11 -11 -11 -10 -10 -10 -10 -10  -11 -11 -12 -12 -12 -12 -12 -12  -12 -13 -13 -13 -13 -13 -13 -13  -14 -14 -14 -14",
    "-8.5 -8 -9 -8.5 -9 -8 -7.5 -8.5 -9.5  -9 -10 -9.5 -9.5 -10 -10 -10.5 -10  -10 -10 -10 -10 -10 -9 -10 -10  -8 -9 -9 -8 -8 -9 -9 -9  -8 -8 -8 -7 -7 -7 -7 -7  -7 -7 -8 -8 -8 -8 -8 -8  -9 -10 -10 -10 -10 -10 -10 -10  -11 -11 -11 -11",
    "-8 -8.5 -9 -9 -8.5 -8 -8 -9 -9  -9.5 -10.5 -10 -10 -10 -11 -10.5 -10  -10 -10 -10 -10 -10 -9 -10 -10  -9 -10 -10 -9 -9 -10 -10 -10  -9 -9 -9 -8 -8 -8 -8 -8  -7 -7 -8 -8 -8 -8 -8 -8  -7 -8 -8 -8 -8 -8 -8 -8  -7 -7 -6 -6",
]

# 50 perturbed members, precipitation spikes {step: mm}; other steps are dry
rr_members = [
    {24: 1, 25: 3, 26: 8, 27: 2, 33: 4, 34: 1, 47: 2, 48: 6, 49: 1},
    {26: 2, 27: 12, 28: 4, 35: 6, 36: 18, 37: 3, 52: 1},
    {23: 1, 24: 4, 25: 2, 30: 3, 31: 14, 32: 2, 44: 3, 45: 9, 46: 1},
    {27: 3, 28: 9, 29: 2, 37: 4, 38: 30, 39: 6, 47: 10, 48: 2, 56: 8, 57: 2},
    {25: 2, 26: 6, 27: 16, 28: 3, 31: 5, 32: 17, 33: 2, 50: 3},
    {1: 1, 24: 2, 25: 5, 26: 1, 38: 8, 39: 54, 40: 6, 52: 2, 53: 7, 54: 1},
    {28: 2, 29: 6, 30: 1, 36: 3, 37: 25, 38: 4, 56: 4, 57: 17.7, 58: 3},
    {26: 3, 27: 9, 28: 2, 33: 2, 34: 7, 35: 1, 49: 2, 50: 15.8, 51: 4},
    {24: 1, 25: 4, 26: 2, 32: 3, 33: 9, 34: 2, 42: 1, 43: 5, 44: 1},
    {24: 8, 25: 2, 26: 5, 27: 18, 28: 4, 41: 10, 42: 2},
    {29: 3, 30: 7, 31: 2, 43: 4, 44: 15.5, 45: 3, 48: 2, 49: 6},
    {12: 1, 24: 2, 25: 12, 26: 25, 27: 8, 28: 44, 29: 5, 35: 21, 36: 30, 37: 4, 49: 10, 50: 2},
    {27: 2, 28: 8, 29: 3, 32: 12, 33: 4, 46: 2, 47: 5, 48: 1},
    {25: 1, 26: 4, 27: 2, 33: 6, 34: 3, 40: 2, 41: 4},
    {23: 1, 24: 3, 25: 1, 29: 2, 30: 9, 31: 3, 51: 2, 52: 5},
    {26: 1, 27: 6, 28: 2, 34: 3, 35: 10, 36: 2, 58: 3, 59: 4},
    {30: 2, 31: 8, 32: 2, 45: 4, 46: 11, 47: 2, 59: 10, 60: 2},
    {28: 3, 29: 10, 30: 2, 49: 6, 50: 25, 51: 4},
    {24: 2, 25: 7, 26: 1, 31: 4, 32: 16.5, 33: 3, 48: 2},
    {18: 0.6, 19: 0.8, 33: 3, 34: 7, 35: 2, 56: 3, 57: 13, 58: 2, 60: 5},
    {27: 2, 28: 5, 29: 1, 35: 8, 36: 48, 37: 5, 46: 6, 47: 33, 48: 5},
    {26: 1, 27: 3, 28: 1, 38: 2, 39: 6, 40: 2, 53: 1},
    {29: 2, 30: 5, 31: 1, 42: 3, 43: 8, 44: 2, 53: 5, 54: 18.4, 55: 3},
    {22: 1, 23: 3, 24: 6, 25: 2, 37: 7, 38: 55, 39: 8, 46: 3},
    {28: 2, 29: 9, 30: 3, 47: 8, 48: 30, 49: 4, 55: 2, 56: 8},
    {30: 1, 31: 3, 32: 1, 53: 2, 54: 10.3, 55: 2},
    {28: 2, 29: 7, 30: 2, 31: 35, 32: 6, 43: 4, 44: 37, 45: 6},
    {27: 2, 28: 6, 29: 2, 41: 8, 42: 63, 43: 6, 54: 5, 55: 30, 56: 4},
    {18: 4, 19: 0.5, 26: 3, 27: 8, 28: 2, 47: 4, 48: 20, 49: 3},
    {25: 2, 26: 5, 27: 2, 35: 3, 36: 9, 37: 2},
    {28: 3, 29: 20, 30: 4, 39: 3, 40: 11, 41: 2},
    {19: 0.7, 20: 0.5, 27: 4, 28: 12, 29: 3, 59: 2, 60: 4},
    {25: 3, 26: 12, 27: 41.7, 28: 8, 29: 2, 52: 3, 53: 8, 54: 1},
    {32: 2, 33: 5, 34: 14, 35: 3, 57: 5, 58: 20, 59: 10, 60: 2},
    {29: 3, 30: 10, 31: 2, 40: 2, 41: 6, 42: 1},
    {26: 2, 27: 7, 28: 2, 51: 4, 52: 15, 53: 3},
    {44: 4, 45: 20, 46: 4, 55: 3, 56: 6},
    {27: 5, 28: 14, 29: 4, 35: 2, 36: 6, 37: 1},
    {30: 2, 31: 6, 32: 1, 39: 3, 40: 40, 41: 5},
    {30: 6, 31: 60, 32: 5, 38: 4, 39: 14, 40: 2, 48: 3, 49: 12, 50: 2},
    {24: 1, 25: 3, 26: 1, 33: 3, 34: 8, 35: 2},
    {32: 2, 33: 7, 34: 2, 45: 5, 46: 33, 47: 4},
    {11: 0.8, 12: 1.5, 13: 0.5, 30: 3, 31: 12, 32: 2, 35: 4, 36: 20, 37: 3},
    {26: 2, 27: 6, 28: 1, 49: 4, 50: 12.4, 51: 2},
    {28: 4, 29: 39.3, 30: 5, 35: 6, 36: 25, 37: 3, 42: 5, 43: 40, 44: 6},
    {27: 2, 28: 4, 29: 1, 37: 3, 38: 9, 39: 2},
    {11: 0.5, 12: 1, 23: 4, 24: 25.7, 25: 6, 26: 20, 27: 3, 36: 5, 37: 20, 38: 3, 43: 6, 44: 22, 45: 4},
    {24: 6, 25: 27.6, 26: 29, 27: 10, 28: 2, 33: 9, 34: 62, 35: 7, 49: 6, 50: 33, 51: 5},
    {29: 2, 30: 6, 31: 1, 46: 2, 47: 7, 48: 2},
    {21: 1, 22: 13.7, 23: 13.4, 24: 5, 25: 1, 33: 4, 34: 28, 35: 5},
]

RR_ZERO = -45  # precipitation shares the axis: 0 mm is drawn at -45


def fx(px):
    return px / 740


def fy(py):
    return 1 - py / 700


# long table of the members for seaborn
frames = []
for i, s in enumerate(t850_members):
    v = np.array(s.split(), dtype=float)
    frames.append(pd.DataFrame({'hour': hours[:len(v)], 'y': v, 'member': f'm{i + 1:02d}', 'field': 't850'}))
for i, s in enumerate(t500_members):
    v = np.array(s.split(), dtype=float)
    frames.append(pd.DataFrame({'hour': hours[:len(v)], 'y': v, 'member': f'm{i + 1:02d}', 'field': 't500'}))
for i, d in enumerate(rr_members):
    v = np.array([d.get(k, 0.0) for k in range(1, 61)], dtype=float)
    frames.append(pd.DataFrame({'hour': hours[1:], 'y': v + RR_ZERO, 'member': f'm{i + 1:02d}', 'field': 'rr'}))
members = pd.concat(frames, ignore_index=True)
member_order = [f'm{k:02d}' for k in range(1, 51)]

fig = plt.figure(figsize=(7.4, 7.0), dpi=100)
ax = fig.add_axes([fx(50), 1 - 600 / 700, 640 / 740, 600 / 700])

# grid
for v in range(-45, 31, 5):
    if v == 0:
        ax.axhline(v, color='#9a9a9a', lw=2.3, zorder=1)
    elif v % 10 == 0:
        ax.axhline(v, color='#c0c0c0', lw=1.7, zorder=1)
    else:
        ax.axhline(v, color='#c4c4c4', lw=0.9, zorder=1)
for h in date_hours:
    ax.axvline(h, color='#c4c4c4', lw=0.9, zorder=1)

# spaghetti of the 50 members
for field in ['t850', 't500', 'rr']:
    sns.lineplot(data=members[members['field'] == field], x='hour', y='y', hue='member',
                 hue_order=member_order, palette=member_colors, estimator=None, sort=False,
                 legend=False, lw=0.75, marker='+', markersize=3.5, ax=ax, zorder=2)
for ln in ax.get_lines():
    if ln.get_marker() == '+':
        ln.set_markeredgecolor(ln.get_color())
        ln.set_markeredgewidth(0.7)

# control run (blue), deterministic run (black), ensemble mean (red)
rr_hours = hours[1:]
sns.lineplot(x=hours, y=ctrl850, color='#0000ff', lw=2.2, ax=ax, zorder=3)
sns.lineplot(x=hours, y=ctrl500, color='#0000ff', lw=2.2, ax=ax, zorder=3)
sns.lineplot(x=rr_hours, y=np.array(ctrl_rr) + RR_ZERO, color='#0000ff', lw=2.2, ax=ax, zorder=3)
sns.lineplot(x=hours[:len(cep850)], y=cep850, color='black', lw=2.2, ax=ax, zorder=4)
sns.lineplot(x=hours[:len(cep500)], y=cep500, color='black', lw=2.2, ax=ax, zorder=4)
sns.lineplot(x=rr_hours[:len(cep_rr)], y=np.array(cep_rr) + RR_ZERO, color='black', lw=2.2, ax=ax, zorder=4)
sns.lineplot(x=hours, y=mean850, color='#ff0000', lw=3.2, ax=ax, zorder=5)
sns.lineplot(x=hours, y=mean500, color='#ff0000', lw=3.2, ax=ax, zorder=5)
sns.lineplot(x=rr_hours, y=np.array(mean_rr) + RR_ZERO, color='#ff0000', lw=3.2, ax=ax, zorder=5)

ax.set_xlim(0, 360)
ax.set_ylim(-52.6, 33.1)
ax.set_xticks([])
ax.set_yticks([])
ax.set_xlabel('')
ax.set_ylabel('')
ax.spines['top'].set_visible(False)
for s in ['left', 'right', 'bottom']:
    ax.spines[s].set_color('black')
    ax.spines[s].set_linewidth(1.3)

# axis labels: °C on the left, mm on the right
for v in range(30, -46, -5):
    ax.text(-14.1, v, str(v), ha='center', va='center', fontsize=7.2, family='DejaVu Sans', clip_on=False)
    ax.text(370.6, v, str(v + 45), ha='left', va='center', fontsize=7.2, family='DejaVu Sans', clip_on=False)
for h, lab in zip(date_hours, date_labels):
    ax.text(h + 2.8, -52.9, lab, rotation=90, ha='center', va='top', fontsize=7.2, clip_on=False)
fig.text(fx(20), fy(606), '(°C)', fontsize=7.2, va='center')
fig.text(fx(716), fy(606), '(mm)', fontsize=7.2, va='center')

ax.text(5.6, 20.1, 'Temp. 850hPa', fontsize=7.2, va='baseline', zorder=6)
ax.text(5.6, -6.4, 'Temp. 500hPa', fontsize=7.2, va='baseline', zorder=6)
ax.text(5.6, -43.3, 'Précipitations', fontsize=7.2, va='baseline', zorder=6)

# legend
fig.add_artist(Line2D([fx(36), fx(67)], [fy(637), fy(637)], color='#ff0000', lw=3.2))
fig.text(fx(75), fy(637), 'Moyenne des scénarios', fontsize=7.2, va='center')
fig.add_artist(Line2D([fx(227), fx(258)], [fy(637), fy(637)], color='#0000ff', lw=3.0))
fig.text(fx(267), fy(637), 'Run de contrôle', fontsize=7.2, va='center')
fig.add_artist(Line2D([fx(227), fx(258)], [fy(648), fy(648)], color='black', lw=3.0))
fig.text(fx(267), fy(648), 'Run CEP/ECMWF', fontsize=7.2, va='center')
fig.text(fx(373), fy(652), '50 Perts.', fontsize=7.2, va='center')

for k, col in enumerate(member_colors):
    row, c = divmod(k, 25)
    x0 = 431 + 10.92 * c
    y0 = 644.5 + 6.2 * row
    fig.add_artist(Rectangle((fx(x0), fy(y0 + 6.2)), 10.4 / 740, 6.2 / 700, color=col, lw=0,
                             transform=fig.transFigure))
    ty = 638.5 if row == 0 else 662.5
    fig.text(fx(x0 + 5.2), fy(ty), f'{k + 1:02d}', fontsize=5.4, weight='bold', ha='center', va='center')

# caption box
fig.add_artist(Rectangle((fx(20), 0), 423 / 740, 32 / 700, fill=False, edgecolor='black', lw=1.3,
                         transform=fig.transFigure))
fig.text(fx(30), fy(677), 'Diagramme ensembles ECMWF/CEP 0.25° sur 360h pour NA(R)mes',
         fontsize=8.1, weight='bold', va='center')
fig.text(fx(30), fy(692), 'Températures 850hPa et 500hPa (°C) , précipitations (mm)',
         fontsize=7.1, va='center')
fig.text(fx(452), fy(676), 'Ensemble ECMWF/CEP du 28/08/2024 - 12Z', fontsize=7.3, va='center')
fig.text(fx(451), fy(692), 'Copyright 2024 Meteociel.fr - ECMWF', fontsize=8.4, weight='bold', va='center')

fig.savefig('out.png', dpi=100)
